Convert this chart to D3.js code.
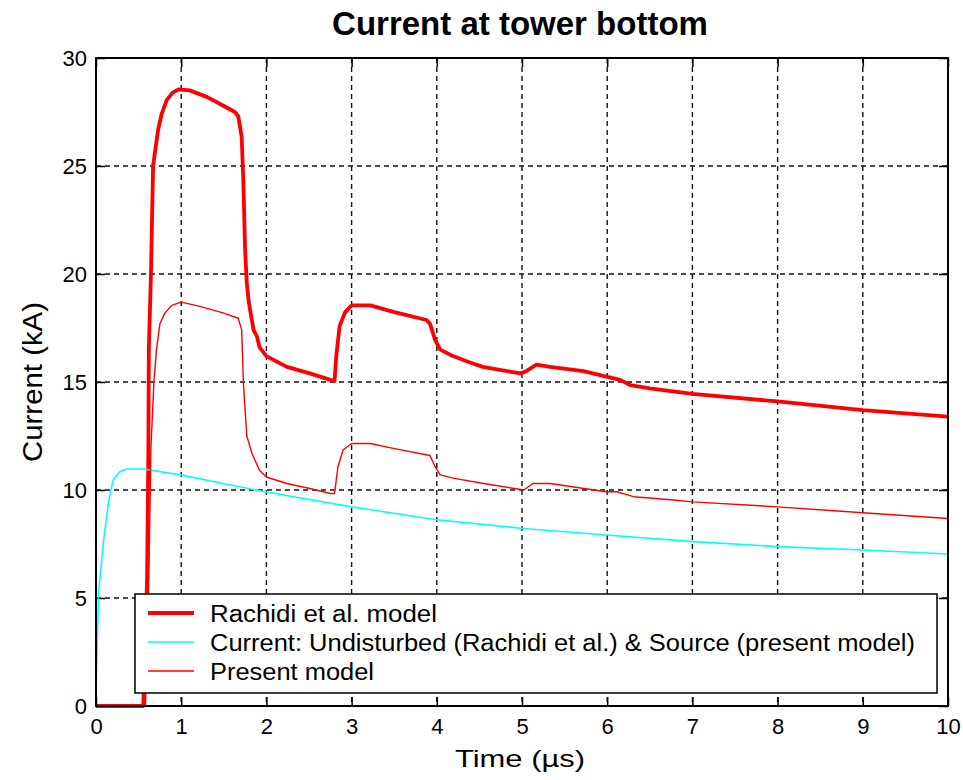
<!DOCTYPE html>
<html>
<head>
<meta charset="utf-8">
<script src="https://cdn.jsdelivr.net/npm/d3@7"></script>
<style>
  body { margin: 0; background: #fff; }
  text { font-family: "Liberation Sans", Arial, sans-serif; fill: #000; }
</style>
</head>
<body>
<div id="chart"></div>
<script>
// values (time in µs, current in kA)
var rachidiT = [0, 0.555, 0.57, 0.60, 0.615, 0.62, 0.645, 0.67, 0.73, 0.77, 0.83, 0.90, 0.97, 1.10, 1.30, 1.49, 1.63, 1.67, 1.71, 1.73, 1.75, 1.77, 1.79, 1.81, 1.85, 1.89, 1.92, 2.0, 2.24, 2.51, 2.75, 2.80, 2.82, 2.86, 2.92, 3.0, 3.22, 3.49, 3.88, 3.92, 3.98, 4.04, 4.19, 4.39, 4.54, 4.98, 5.05, 5.17, 5.33, 5.72, 5.99, 6.15, 6.27, 6.50, 7.0, 8.0, 9.0, 10.0];
var rachidiI = [0, 0, 2, 6, 12, 16.5, 20, 25, 26.7, 27.4, 28.05, 28.4, 28.55, 28.5, 28.2, 27.8, 27.5, 27.3, 26.35, 24.2, 21.1, 19.6, 18.8, 18.3, 17.4, 17.1, 16.6, 16.2, 15.7, 15.4, 15.1, 15.05, 16.2, 17.6, 18.2, 18.55, 18.55, 18.25, 17.87, 17.7, 16.95, 16.5, 16.2, 15.9, 15.7, 15.4, 15.5, 15.8, 15.7, 15.5, 15.25, 15.1, 14.86, 14.7, 14.45, 14.1, 13.7, 13.4];

var sourceT = [0, 0.005, 0.03, 0.09, 0.15, 0.20, 0.28, 0.36, 0.56, 0.99, 1.49, 1.98, 3.0, 4.0, 5.02, 5.99, 7.01, 8.0, 9.0, 10.0];
var sourceI = [0, 1.4, 5.2, 7.7, 9.5, 10.46, 10.85, 10.97, 10.97, 10.7, 10.3, 9.92, 9.22, 8.62, 8.22, 7.92, 7.61, 7.38, 7.22, 7.04];

var presentT = [0, 0.58, 0.62, 0.645, 0.68, 0.71, 0.75, 0.81, 0.89, 1.0, 1.22, 1.49, 1.67, 1.71, 1.73, 1.77, 1.83, 1.92, 2.0, 2.24, 2.51, 2.75, 2.80, 2.84, 2.90, 3.0, 3.22, 3.49, 3.92, 3.98, 4.04, 4.19, 4.55, 5.02, 5.13, 5.33, 5.99, 6.11, 6.31, 6.78, 7.0, 8.0, 9.0, 10.0];
var presentI = [0, 0, 6, 12, 15, 16.5, 17.7, 18.2, 18.55, 18.7, 18.5, 18.2, 17.95, 17.4, 14.95, 12.5, 11.7, 10.9, 10.6, 10.3, 10.07, 9.84, 9.84, 11.08, 11.85, 12.15, 12.15, 11.93, 11.6, 11.08, 10.7, 10.55, 10.3, 10.0, 10.3, 10.3, 9.92, 9.92, 9.69, 9.54, 9.45, 9.22, 8.95, 8.68];

var xTicks = [0, 1, 2, 3, 4, 5, 6, 7, 8, 9, 10];
var yTicks = [0, 5, 10, 15, 20, 25, 30];
var legendLabels = ["Rachidi et al. model", "Current: Undisturbed (Rachidi et al.) & Source (present model)", "Present model"];

var W = 963, H = 780;
// plot box (named so they don't clash with window.top)
var pLeft = 96, pRight = 948, pTop = 58, pBottom = 706;

var svg = d3.select("#chart").append("svg")
	.attr("width", W)
	.attr("height", H);

var x = d3.scaleLinear().domain([0, 10]).range([pLeft, pRight]);
var y = d3.scaleLinear().domain([0, 30]).range([pBottom, pTop]);

// dashed grid
var grid = svg.append("g");
grid.selectAll(".vg").data(xTicks.slice(1, -1)).enter().append("line")
	.attr("x1", function(d){ return x(d); }).attr("x2", function(d){ return x(d); })
	.attr("y1", pTop).attr("y2", pBottom)
	.attr("stroke", "#111").attr("stroke-width", 1.4).attr("stroke-dasharray", "5,4");
grid.selectAll(".hg").data(yTicks.slice(1, -1)).enter().append("line")
	.attr("y1", function(d){ return y(d); }).attr("y2", function(d){ return y(d); })
	.attr("x1", pLeft).attr("x2", pRight)
	.attr("stroke", "#111").attr("stroke-width", 1.4).attr("stroke-dasharray", "5,4");

// axes, inward ticks like matlab
var xAxis = d3.axisBottom(x).tickValues(xTicks).tickSize(-9).tickPadding(12);
var yAxis = d3.axisLeft(y).tickValues(yTicks).tickSize(-9).tickPadding(9);
var gx = svg.append("g").attr("transform", "translate(0," + pBottom + ")").call(xAxis);
var gy = svg.append("g").attr("transform", "translate(" + pLeft + ",0)").call(yAxis);
svg.append("g").attr("transform", "translate(0," + pTop + ")")
	.call(d3.axisTop(x).tickValues(xTicks).tickSize(-9).tickFormat(""));
svg.append("g").attr("transform", "translate(" + pRight + ",0)")
	.call(d3.axisRight(y).tickValues(yTicks).tickSize(-9).tickFormat(""));
svg.selectAll(".domain").remove();
svg.selectAll(".tick line").attr("stroke", "#000").attr("stroke-width", 1.5);
svg.selectAll(".tick text")
	.attr("font-size", 22)
	.attr("font-family", "Liberation Sans, Arial, sans-serif");

// lines
var line = d3.line()
	.x(function(d){ return x(d[0]); })
	.y(function(d){ return y(d[1]); });

var series = [
	{ t: rachidiT, v: rachidiI, color: "#ff0000", w: 3.8 },
	{ t: sourceT, v: sourceI, color: "#00ffff", w: 1.6 },
	{ t: presentT, v: presentI, color: "#ff0000", w: 1.4 }
];
series.forEach(function(s){
	var pts = s.t.map(function(t, i){ return [t, s.v[i]]; });
	svg.append("path").datum(pts)
		.attr("d", line)
		.attr("fill", "none")
		.attr("stroke", s.color)
		.attr("stroke-width", s.w)
		.attr("stroke-linejoin", "round");
});

// box
svg.append("rect")
	.attr("x", pLeft).attr("y", pTop)
	.attr("width", pRight - pLeft).attr("height", pBottom - pTop)
	.attr("fill", "none").attr("stroke", "#000").attr("stroke-width", 2);

// legend
var legendWidths = [227, 705, 164];
var lg = svg.append("g");
lg.append("rect")
	.attr("x", 135).attr("y", 594).attr("width", 802).attr("height", 99)
	.attr("fill", "#fff").attr("stroke", "#000").attr("stroke-width", 1.5);
legendLabels.forEach(function(lab, i){
	var base = 622 + i * 29;
	lg.append("line")
		.attr("x1", 148).attr("x2", 194).attr("y1", base - 9).attr("y2", base - 9)
		.attr("stroke", series[i].color).attr("stroke-width", series[i].w);
	lg.append("text")
		.attr("x", 210).attr("y", base)
		.attr("font-size", 23)
		.attr("textLength", legendWidths[i])
		.attr("lengthAdjust", "spacingAndGlyphs")
		.text(lab);
});

// title and axis labels
svg.append("text")
	.attr("x", 520).attr("y", 35)
	.attr("text-anchor", "middle")
	.attr("font-size", 33).attr("font-weight", "bold")
	.text("Current at tower bottom");
svg.append("text")
	.attr("x", 520).attr("y", 767)
	.attr("text-anchor", "middle")
	.attr("font-size", 24)
	.attr("textLength", 130)
	.attr("lengthAdjust", "spacingAndGlyphs")
	.text("Time (µs)");
svg.append("text")
	.attr("transform", "translate(42," + 382 + ") rotate(-90)")
	.attr("text-anchor", "middle")
	.attr("font-size", 27)
	.attr("textLength", 160)
	.attr("lengthAdjust", "spacingAndGlyphs")
	.text("Current (kA)");
</script>
</body>
</html>
